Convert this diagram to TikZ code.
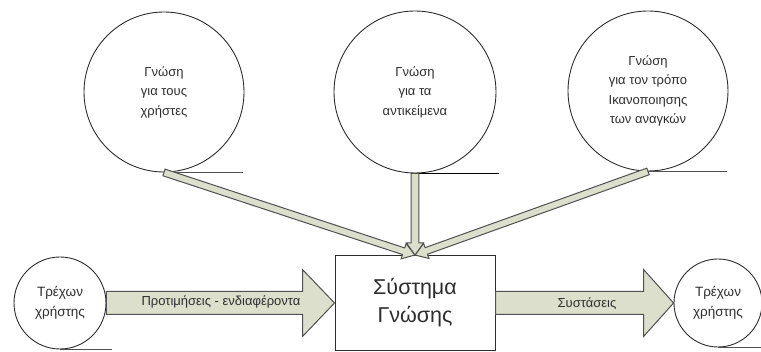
\documentclass[tikz,border=0pt]{standalone}
\usepackage{fontspec}
\setmainfont{Liberation Sans}
\usetikzlibrary{calc}

\definecolor{arrowfill}{RGB}{220,223,203}
\definecolor{edgegray}{RGB}{80,80,80}
\definecolor{inkgray}{RGB}{45,45,45}

% Block arrow from #1 to #2: half shaft width #3, half head width #4, head length #5
\newcommand\blockarrow[5]{%
  \coordinate (hb) at ($(#2)!#5!(#1)$);
  \draw[fatarrow]
    ($(#1)!#3!90:(#2)$) -- ($(hb)!#3!90:(#2)$) -- ($(hb)!#4!90:(#2)$) --
    (#2) --
    ($(hb)!#4!-90:(#2)$) -- ($(hb)!#3!-90:(#2)$) -- ($(#1)!#3!-90:(#2)$) -- cycle;
}

\tikzset{
  fatarrow/.style={draw=edgegray, fill=arrowfill, line width=1pt, line join=miter},
  knowledge/.style={circle, draw=inkgray, line width=0.9pt, inner sep=0pt,
    align=center, text=inkgray, font=\fontsize{13}{19.5}\selectfont},
  userbubble/.style={circle, draw=inkgray, line width=0.9pt, inner sep=0pt,
    align=center, text=inkgray, font=\fontsize{13.5}{20}\selectfont},
  sysbox/.style={rectangle, draw=inkgray, line width=1pt, align=center,
    minimum width=160pt, minimum height=95pt, text=inkgray,
    font=\fontsize{21.5}{28}\selectfont},
  flowlabel/.style={text=inkgray, font=\fontsize{13}{15}\selectfont},
  tail/.style={draw=edgegray, line width=0.9pt}
}

\begin{document}
\begin{tikzpicture}[x=1pt, y=-1pt]
  \useasboundingbox (0,0) rectangle (761,352);

  % knowledge sources
  \node[knowledge, minimum size=160pt] (k1) at (164,92) {Γνώση\\για τους\\χρήστες};
  \node[knowledge, minimum size=162pt] (k2) at (415,92) {Γνώση\\για τα\\αντικείμενα};
  \node[knowledge, minimum size=160pt] (k3) at (648,91) {Γνώση\\για τον τρόπο\\Ικανοποιησης\\των αναγκών};

  % central system and current user
  \node[sysbox] (sys) at (415,303) {Σύστημα\\Γνώσης};
  \node[userbubble, minimum size=92pt] (u1) at (60,303) {Τρέχων\\χρήστης};
  \node[userbubble, minimum size=88pt] (u2) at (718,303) {Τρέχων\\χρήστης};

  % tails under the bubbles
  \draw[tail] (k1.south) -- ++(79,0);
  \draw[tail, draw=black] (k2.south) -- ++(84,0);
  \draw[tail] (k3.south) -- ++(79,0);
  \draw[tail] (u1.south) -- ++(52,0);
  \draw[tail] (u2.south) -- ++(45,0);

  % knowledge flowing into the system
  \blockarrow{k1.south}{sys.north}{3.5pt}{8pt}{12pt}
  \blockarrow{k3.south}{sys.north}{3.5pt}{8pt}{12pt}
  \blockarrow{k2.south}{sys.north}{3.8pt}{8.5pt}{12pt}

  % preferences in, recommendations out
  \blockarrow{u1.east}{sys.west}{11.5pt}{33.5pt}{32pt}
  \blockarrow{sys.east}{u2.west}{11.5pt}{33.5pt}{30pt}

  \node[flowlabel] (pref) at (221,302) {Προτιμήσεις - ενδιαφέροντα};
  \node[flowlabel] (rec) at (587,304) {Συστάσεις};
\end{tikzpicture}
\end{document}
